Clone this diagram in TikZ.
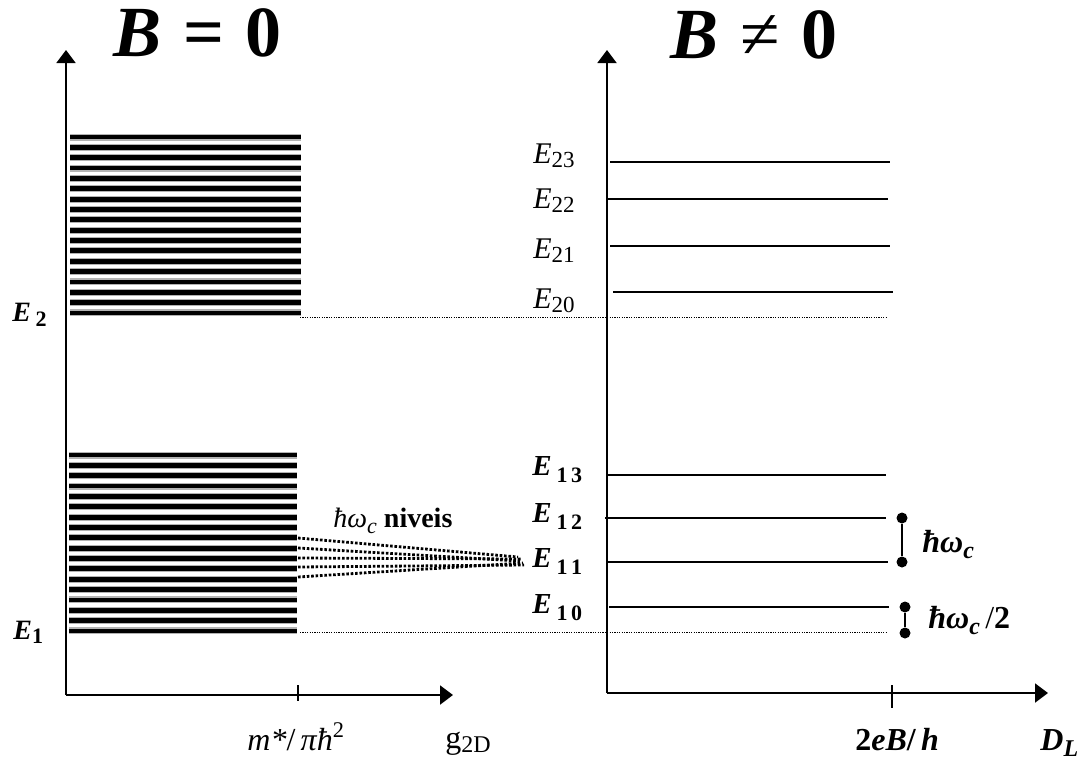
\documentclass[tikz,border=0pt]{standalone}
\usepackage{fontspec}
\setmainfont{Liberation Serif}
\usetikzlibrary{arrows.meta}

\newcommand{\sz}[1]{\fontsize{#1}{#1}\selectfont}
\newcommand{\lo}[3][-2.5pt]{\raisebox{#1}{\sz{#2}#3}}

\begin{document}
\begin{tikzpicture}[x=0.5pt,y=-0.5pt,
    axis/.style={line width=1pt,-{Triangle[length=6.5pt,width=9.5pt]}},
    level/.style={line width=1pt},
    thindots/.style={line width=0.5pt,dash pattern=on 0.6pt off 0.6pt},
    fandots/.style={line width=1.4pt,dash pattern=on 1.3pt off 0.9pt},
    stripe/.style={draw=gray!60,double=black,double distance=2.4pt,line width=0.55pt},
    dot/.style={circle,fill,inner sep=0pt,minimum size=5.5pt},
    lbl/.style={anchor=base west,inner sep=0pt}]
    \useasboundingbox (0,0) rectangle (1082,761);

    % Axes
    \coordinate (o1) at (66,695);
    \coordinate (y1) at (66,50);
    \coordinate (x1) at (453,695);
    \coordinate (o2) at (607,693);
    \coordinate (y2) at (607,50);
    \coordinate (x2) at (1048,693);
    \draw[axis] (o1) -- (y1);
    \draw[axis] (o1) -- (x1);
    \draw[axis] (o2) -- (y2);
    \draw[axis] (o2) -- (x2);
    \draw[line width=0.8pt] (298,685) -- (298,701);
    \draw[line width=0.8pt] (892,685) -- (892,708);

    % Bands (B = 0)
    \foreach \i in {0,...,17} {
        \draw[stripe] (70,137+\i*10.35) -- (301,137+\i*10.35);
        \draw[stripe] (69,455+\i*10.35) -- (297,455+\i*10.35);
    }
    \draw[thindots] (300,317) -- (886,317);
    \draw[thindots] (300,632) -- (887,632);

    % Landau levels (B != 0)
    \foreach \y/\a/\b in {162/610/890, 199/608/888, 246/610/890, 292/613/893,
                          475/607/886, 518/605/886, 562/607/888, 607/609/889}
        \draw[level] (\a,\y) -- (\b,\y);

    % Fan of levels
    \coordinate (f1) at (518,557);
    \coordinate (f2) at (520,561);
    \coordinate (f3) at (521,559);
    \coordinate (f4) at (524,565);
    \coordinate (f5) at (523,563);
    \draw[fandots] (298,538) -- (f1);
    \draw[fandots] (298,548) -- (f2);
    \draw[fandots] (298,558) -- (f3);
    \draw[fandots] (298,567) -- (f4);
    \draw[fandots] (298,577) -- (f5);

    % Spacings
    \node (w1) [dot] at (902,518) {};
    \node (w2) [dot] at (902,562) {};
    \node (h1) [dot] at (905,607) {};
    \node (h2) [dot] at (905,633) {};
    \draw[level] (w1) -- (w2);
    \draw[level] (h1) -- (h2);

    % Titles
    \node (tzero) [lbl,font=\sz{36}] at (113,56)
        {\textbf{\textit{B}}\hspace{.3em}\textbf{=}\hspace{.3em}\textbf{0}};
    \node (tfield) [lbl,font=\sz{36}] at (670,58)
        {\textbf{\textit{B}}\hspace{.3em}≠\hspace{.3em}\textbf{0}};

    % Left labels
    \node (e2) [lbl,font=\sz{14}] at (12,321) {\textbf{\textit{E}}\,\lo{11}{\textbf{2}}};
    \node (e1) [lbl,font=\sz{14}] at (13,639) {\textbf{\textit{E}}\lo[-2pt]{11}{\textbf{1}}};
    \node (niv) [lbl,font=\sz{14}] at (333,527) {\textit{ħω}\lo[-3pt]{11}{\textit{c}} \textbf{niveis}};

    % Right labels
    \node (e23) [lbl,font=\sz{15}] at (533,163) {\textit{E}\lo[-2pt]{11.5}{23}};
    \node (e22) [lbl,font=\sz{15}] at (533,208) {\textit{E}\lo[-2pt]{11.5}{22}};
    \node (e21) [lbl,font=\sz{15}] at (533,258) {\textit{E}\lo[-2pt]{11.5}{21}};
    \node (e20) [lbl,font=\sz{15}] at (533,308) {\textit{E}\lo[-2pt]{11.5}{20}};
    \node (e13) [lbl,font=\sz{14.5}] at (532,475) {\textbf{\textit{E}}\,\lo[-3.5pt]{11}{\textbf{1\,3}}};
    \node (e12) [lbl,font=\sz{14.5}] at (532,522) {\textbf{\textit{E}}\,\lo[-3.5pt]{11}{\textbf{1\,2}}};
    \node (e11) [lbl,font=\sz{14.5}] at (532,567) {\textbf{\textit{E}}\,\lo[-3.5pt]{11}{\textbf{1\,1}}};
    \node (e10) [lbl,font=\sz{14.5}] at (532,613) {\textbf{\textit{E}}\,\lo[-3.5pt]{11}{\textbf{1\,0}}};
    \node (hw) [lbl,font=\sz{16}] at (922,552)
        {\textbf{\textit{ħω}}\lo[-3pt]{12}{\textbf{\textit{c}}}};
    \node (hwhalf) [lbl,font=\sz{16}] at (928,628)
        {\textbf{\textit{ħω}}\lo[-3pt]{12}{\textbf{\textit{c}}}\,/\textbf{2}};

    % Axis labels
    \node (gmax) [lbl,font=\sz{16}] at (247,750) {\textit{m*}/\,\textit{πħ}\textsuperscript{2}};
    \node (g2d) [lbl,font=\sz{16}] at (445,748) {g\lo[-2pt]{12}{2D}};
    \node (deg) [lbl,font=\sz{16}] at (855,750) {\textbf{2\textit{eB}/\,\textit{h}}};
    \node (dl) [lbl,font=\sz{16}] at (1040,750) {\textbf{\textit{D}}\lo[-3pt]{12}{\textbf{\textit{L}}}};
\end{tikzpicture}
\end{document}
